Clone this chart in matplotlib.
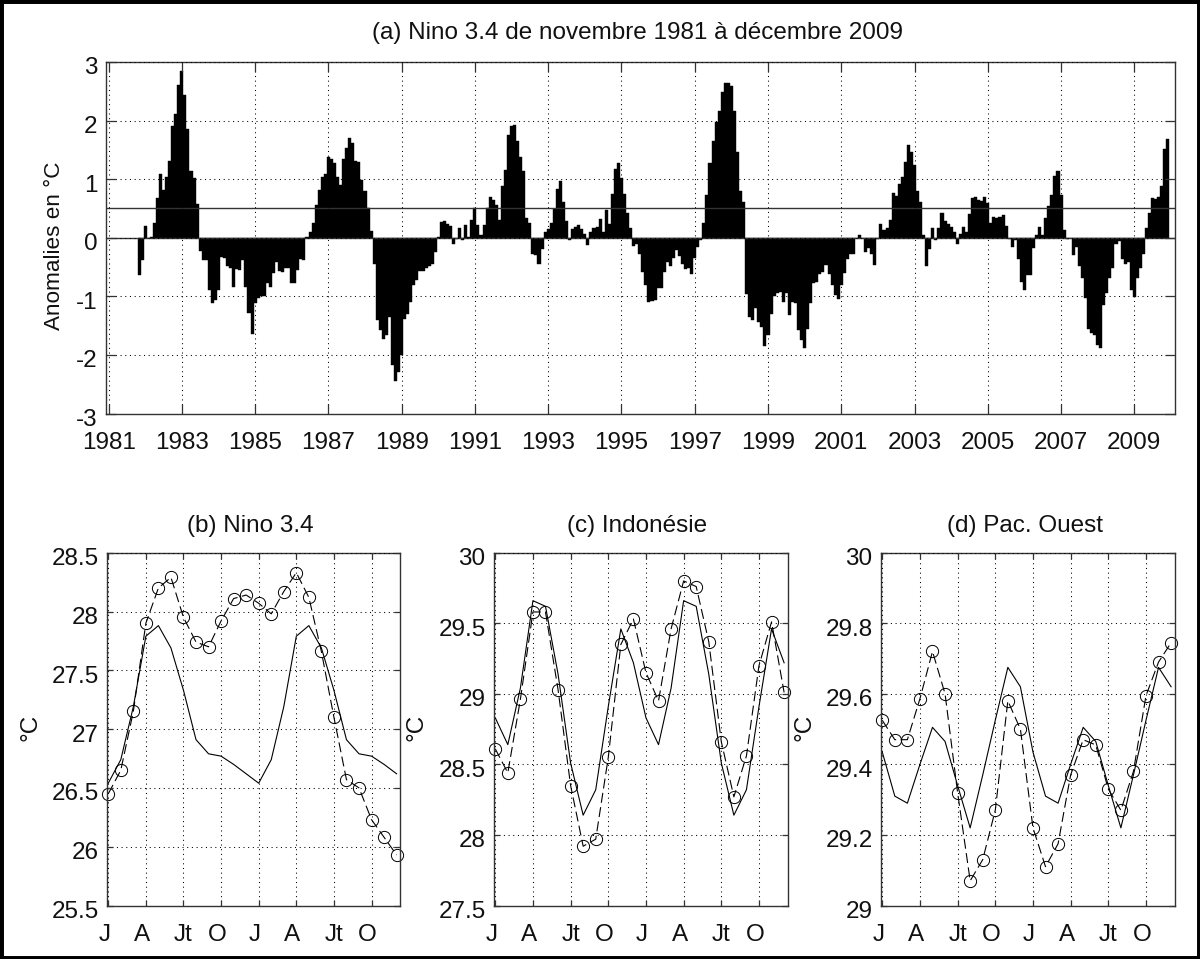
import numpy as np
import matplotlib
matplotlib.use("Agg")
import matplotlib.pyplot as plt
from matplotlib.patches import Rectangle
from matplotlib.transforms import ScaledTranslation

plt.rcParams['font.family'] = ['Liberation Sans', 'DejaVu Sans']
plt.rcParams['axes.unicode_minus'] = False

# --- monthly anomalies, Nov 1981 to Dec 2009 ---
start_year = 1981 + 10 / 12
anomalies = [
    -0.64, -0.38, 0.20, 0.00, 0.02, 0.26, 0.67, 1.08, 0.82, 1.04, 1.31, 1.91,
    2.12, 2.61, 2.85, 2.43, 1.85, 1.14, 1.02, 0.57, -0.22, -0.38, -0.38, -0.90,
    -1.12, -1.06, -0.90, -0.33, -0.35, -0.48, -0.52, -0.84, -0.54, -0.55, -0.38, -0.84,
    -1.29, -1.64, -1.12, -1.03, -1.00, -0.99, -0.78, -0.84, -0.61, -0.41, -0.57, -0.58,
    -0.52, -0.52, -0.77, -0.78, -0.55, -0.36, -0.38, 0.02, 0.09, 0.26, 0.56, 0.82,
    1.04, 1.08, 1.38, 1.34, 1.28, 1.03, 0.90, 1.35, 1.53, 1.71, 1.61, 1.31,
    1.30, 0.98, 0.80, 0.50, 0.12, -0.45, -1.40, -1.57, -1.73, -1.66, -1.36, -2.17,
    -2.44, -2.30, -2.00, -1.39, -1.31, -1.10, -0.80, -0.72, -0.57, -0.57, -0.52, -0.49,
    -0.45, -0.24, 0.02, 0.27, 0.28, 0.24, 0.20, -0.11, -0.02, 0.16, -0.04, 0.22,
    0.01, 0.30, 0.50, 0.22, 0.05, 0.22, 0.50, 0.69, 0.65, 0.56, 0.30, 0.89,
    1.16, 1.75, 1.90, 1.93, 1.65, 1.38, 1.14, 0.34, 0.26, -0.27, -0.30, -0.44,
    -0.20, 0.09, 0.15, 0.26, 0.49, 0.83, 0.97, 0.61, 0.28, -0.04, 0.15, 0.19,
    0.22, 0.15, 0.07, -0.12, 0.10, 0.17, 0.19, 0.32, 0.09, 0.47, 0.23, 0.74,
    1.18, 1.27, 1.02, 0.74, 0.43, 0.16, -0.14, -0.11, -0.28, -0.58, -0.80, -1.10,
    -1.08, -1.06, -0.86, -0.86, -0.58, -0.42, -0.49, -0.35, -0.21, -0.32, -0.45, -0.53,
    -0.52, -0.62, -0.34, -0.15, -0.03, 0.26, 0.73, 1.28, 1.65, 1.97, 2.16, 2.49,
    2.65, 2.65, 2.59, 2.16, 1.47, 0.80, 0.61, -0.96, -1.35, -1.41, -1.20, -1.44,
    -1.52, -1.85, -1.66, -1.31, -0.99, -0.95, -0.92, -1.09, -0.95, -1.32, -1.09, -1.12,
    -1.57, -1.74, -1.89, -1.55, -1.12, -0.78, -0.76, -0.62, -0.58, -0.47, -0.62, -0.81,
    -0.97, -1.05, -0.81, -0.61, -0.36, -0.28, -0.28, -0.01, 0.05, -0.01, -0.24, -0.18,
    -0.27, -0.47, -0.02, 0.24, 0.13, 0.17, 0.30, 0.76, 0.72, 0.91, 1.04, 1.30,
    1.59, 1.47, 1.24, 0.80, 0.61, 0.05, -0.49, -0.20, 0.16, -0.04, 0.17, 0.43,
    0.28, 0.23, 0.18, 0.10, -0.11, 0.07, 0.18, 0.09, 0.41, 0.67, 0.69, 0.64,
    0.63, 0.69, 0.59, 0.26, 0.36, 0.33, 0.36, 0.38, 0.20, -0.02, -0.16, -0.03,
    -0.36, -0.75, -0.89, -0.64, -0.64, -0.18, 0.05, 0.19, 0.05, 0.34, 0.55, 0.73,
    1.06, 1.14, 0.73, 0.13, -0.02, -0.01, -0.30, -0.15, -0.49, -0.69, -1.03, -1.56,
    -1.63, -1.66, -1.83, -1.89, -1.15, -0.95, -0.69, -0.52, -0.10, -0.06, -0.36, -0.44,
    -0.41, -0.89, -1.01, -0.68, -0.52, -0.28, 0.16, 0.43, 0.67, 0.66, 0.69, 0.89,
    1.51, 1.69,
]
threshold = 0.5
year_ticks = list(range(1981, 2010, 2))

# --- two year composites: solid = climatology, dashed with circles = composite ---
month_ticks = [1, 4, 7, 10, 13, 16, 19, 22]
month_labels = ["J", "A", "Jt", "O", "J", "A", "Jt", "O"]

nino_clim = [26.54, 26.74, 27.19, 27.79, 27.88, 27.69, 27.33, 26.91, 26.79, 26.77, 26.70, 26.62,
             26.54, 26.74, 27.19, 27.79, 27.88, 27.69, 27.33, 26.91, 26.79, 26.77, 26.70, 26.62]
nino_comp = [26.45, 26.65, 27.15, 27.90, 28.20, 28.29, 27.95, 27.74, 27.70, 27.92, 28.11, 28.14,
             28.07, 27.98, 28.17, 28.33, 28.12, 27.66, 27.10, 26.57, 26.50, 26.23, 26.08, 25.93]
indo_clim = [28.83, 28.64, 29.04, 29.66, 29.62, 29.14, 28.51, 28.14, 28.32, 28.91, 29.46, 29.22,
             28.83, 28.64, 29.04, 29.66, 29.62, 29.14, 28.51, 28.14, 28.32, 28.91, 29.46, 29.22]
indo_comp = [28.61, 28.44, 28.96, 29.58, 29.58, 29.03, 28.35, 27.92, 27.97, 28.55, 29.35, 29.53,
             29.15, 28.95, 29.46, 29.80, 29.76, 29.37, 28.66, 28.27, 28.56, 29.20, 29.51, 29.01]
pac_clim = [29.435, 29.31, 29.29, 29.40, 29.505, 29.465, 29.34, 29.22, 29.37, 29.525, 29.675, 29.62,
            29.435, 29.31, 29.29, 29.40, 29.505, 29.465, 29.34, 29.22, 29.37, 29.525, 29.675, 29.62]
pac_comp = [29.525, 29.47, 29.47, 29.586, 29.72, 29.60, 29.32, 29.07, 29.13, 29.27, 29.58, 29.50,
            29.22, 29.11, 29.175, 29.37, 29.47, 29.455, 29.33, 29.27, 29.38, 29.595, 29.69, 29.745]

W, H = 1200, 959
fig = plt.figure(figsize=(W / 100, H / 100), dpi=100)
ink = "#333333"
text_ink = "#111111"
font_size = 17.5


def axes_px(left, top, right, bottom):
    return fig.add_axes([left / W, 1 - bottom / H, (right - left) / W, (bottom - top) / H])


def style(ax, ticklen):
    ax.grid(True, color="black", linewidth=0.75, linestyle=(0, (1, 3.5)))
    ax.set_axisbelow(False)
    ax.tick_params(direction="in", top=True, right=True, length=ticklen, width=0.9,
                   color=ink, labelsize=font_size, labelcolor=text_ink)
    ax.tick_params(axis="x", pad=13.5)
    ax.tick_params(axis="y", pad=6)
    for s in ax.spines.values():
        s.set_linewidth(1.0)
        s.set_color(ink)
    # y labels hang a little under their tick
    down = ScaledTranslation(0, -4 / 100, fig.dpi_scale_trans)
    for lab in ax.get_yticklabels():
        lab.set_transform(lab.get_transform() + down)


# --- (a) ---
ax = axes_px(106, 62, 1175, 413.5)
x = [start_year + i / 12 for i in range(len(anomalies))]
ax.bar(x, anomalies, width=1 / 12, color="black", edgecolor="black", linewidth=0.3)
ax.axhline(threshold, color=ink, linewidth=1.0)
ax.axhline(0, color=ink, linewidth=1.0)
ax.set_xlim(1980.93, 2010.11)
ax.set_ylim(-3, 3)
ax.set_xticks(year_ticks)
ax.set_yticks(range(-3, 4))
style(ax, 7)

fig.text(637.5 / W, 1 - 33 / H, u"(a) Nino 3.4 de novembre 1981 \u00e0 d\u00e9cembre 2009",
         ha="center", va="center", fontsize=font_size, color=text_ink)
fig.text(55 / W, 1 - 246 / H, u"Anomalies en \u00b0C", rotation=90, ha="center", va="center",
         fontsize=16.2, color=text_ink)

# --- (b), (c), (d) ---
panels = [
    ((107, 400), nino_clim, nino_comp, (25.5, 28.5), [25.5, 26, 26.5, 27, 27.5, 28, 28.5],
     ["25.5", "26", "26.5", "27", "27.5", "28", "28.5"], u"(b) Nino 3.4", 250, 30),
    ((494, 787.5), indo_clim, indo_comp, (27.5, 30), [27.5, 28, 28.5, 29, 29.5, 30],
     ["27.5", "28", "28.5", "29", "29.5", "30"], u"(c) Indon\u00e9sie", 637, 417),
    ((881, 1174.5), pac_clim, pac_comp, (29, 30), [29, 29.2, 29.4, 29.6, 29.8, 30],
     ["29", "29.2", "29.4", "29.6", "29.8", "30"], u"(d) Pac. Ouest", 1025, 805),
]
months = np.arange(1, 25)
for (left, right), clim, comp, ylim, yticks, ylabels, title, title_x, label_x in panels:
    ax = axes_px(left, 552.7, right, 905.5)
    ax.plot(months, clim, color="black", linewidth=0.8)
    ax.plot(months, comp, color="black", linewidth=0.8, linestyle=(0, (9, 4)),
            marker="o", markersize=8.8, markerfacecolor="none", markeredgewidth=0.7, clip_on=False)
    ax.set_xlim(0.9, 24.27)
    ax.set_ylim(*ylim)
    ax.set_xticks(month_ticks)
    ax.set_xticklabels(month_labels)
    ax.set_yticks(yticks)
    ax.set_yticklabels(ylabels)
    style(ax, 4)
    # labels sit a bit left of their tick, as padded strings do
    for lab, txt in zip(ax.get_xticklabels(), month_labels):
        if txt != "Jt":
            lab.set_transform(lab.get_transform() + ScaledTranslation(-4 / 100, 0, fig.dpi_scale_trans))
    fig.text(title_x / W, 1 - 526 / H, title, ha="center", va="center",
             fontsize=font_size, color=text_ink)
    fig.text(label_x / W, 1 - 727 / H, u"\u00b0C", rotation=90, ha="center", va="center",
             fontsize=font_size, color=text_ink)

# --- outer frame ---
fig.add_artist(Rectangle((0, 0), 1, 1, transform=fig.transFigure, fill=False,
                         edgecolor="black", linewidth=5))

fig.savefig("out.png", dpi=100)
